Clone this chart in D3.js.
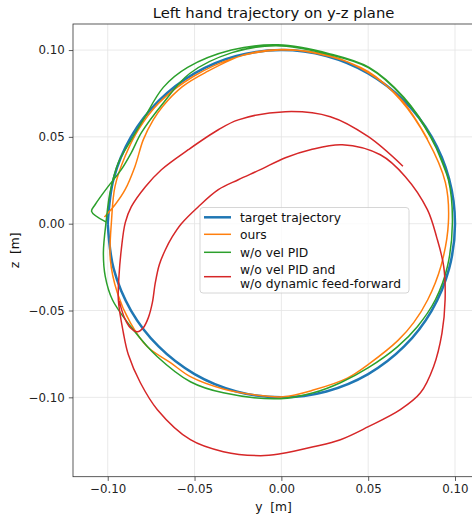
<!DOCTYPE html>
<html><head><meta charset="utf-8">
<script src="https://cdn.jsdelivr.net/npm/d3@7"></script>
<style>body{margin:0;background:#fff}svg{display:block;font-family:"DejaVu Sans",sans-serif}</style>
</head><body><svg id="c" width="472" height="516"></svg>
<script>
const title = "Left hand trajectory on y-z plane";
const xLabel = "y  [m]";
const zLabel = "z  [m]";
const xTicks = [-0.10, -0.05, 0.00, 0.05, 0.10];
const zTicks = [-0.10, -0.05, 0.00, 0.05, 0.10];
const seriesNames = ["target trajectory", "ours", "w/o vel PID", "w/o vel PID and\nw/o dynamic feed-forward"];
const seriesColors = ["#1f77b4", "#ff7f0e", "#2ca02c", "#d62728"];

// [y, z] points
const target = [
  [-0.1,0],[-0.0966,0.0259],[-0.0866,0.05],[-0.0707,0.0707],[-0.05,0.0866],[-0.0259,0.0966],[0,0.1],
  [0.0259,0.0966],[0.05,0.0866],[0.0707,0.0707],[0.0866,0.05],[0.0966,0.0259],[0.1,0],
  [0.0966,-0.0259],[0.0866,-0.05],[0.0707,-0.0707],[0.05,-0.0866],[0.0259,-0.0966],[0,-0.1],
  [-0.0259,-0.0966],[-0.05,-0.0866],[-0.0707,-0.0707],[-0.0866,-0.05],[-0.0966,-0.0259],[-0.1,0]
];
const ours = [
  [-0.1016,0.0042],[-0.0958,0.0109],[-0.09,0.0196],[-0.0843,0.033],[-0.0795,0.0484],[-0.0737,0.0599],
  [-0.0685,0.0674],[-0.057,0.0789],[-0.0438,0.087],[-0.0207,0.0975],[0.002,0.1003],
  [0.0282,0.0962],[0.0501,0.0876],[0.0685,0.0714],[0.0841,0.0484],[0.0945,0.0236],[0.0962,0.0006],
  [0.0918,-0.0248],[0.0843,-0.0438],[0.0762,-0.057],[0.0672,-0.0672],[0.0505,-0.0807],[0.038,-0.0889],
  [0.0184,-0.0958],[0.0012,-0.0997],[-0.0138,-0.0988],[-0.0334,-0.0952],[-0.0524,-0.0881],[-0.0639,-0.080],
  [-0.0772,-0.0709],[-0.087,-0.057],[-0.0945,-0.0397],[-0.0985,-0.0207],[-0.0978,0.002],[-0.0958,0.0215],
  [-0.09,0.0388],[-0.0824,0.0541],[-0.0708,0.0693],[-0.0505,0.0849],[-0.0269,0.0955],[-0.0015,0.1],
  [0.027,0.097],[0.05,0.087],[0.069,0.0715],[0.084,0.049]
];
const noVelPid = [
  [-0.1016,0.0013],[-0.1093,0.0071],[-0.1073,0.0109],[-0.0997,0.0215],[-0.0922,0.0311],[-0.0864,0.0409],
  [-0.0806,0.0524],[-0.068,0.0695],[-0.0528,0.0865],[-0.0284,0.0985],[-0.003,0.1025],
  [0.0282,0.0973],[0.0501,0.0899],[0.0703,0.0726],[0.0858,0.0501],[0.0962,0.0253],[0.0985,0.0006],
  [0.0956,-0.0248],[0.0887,-0.0438],[0.0783,-0.0593],[0.0668,-0.0709],[0.0501,-0.0829],[0.034,-0.0916],
  [0.0184,-0.0974],[-0.0006,-0.1008],[-0.0334,-0.0974],[-0.0524,-0.091],[-0.0714,-0.0766],[-0.0853,-0.0611],
  [-0.0973,-0.0438],[-0.1014,-0.0305],[-0.1025,-0.0167],[-0.1008,0.0023],[-0.0987,0.0179],[-0.0939,0.0351],
  [-0.0864,0.0484],[-0.0795,0.0599],[-0.068,0.0785],[-0.054,0.09],[-0.0288,0.1],[-0.002,0.103],
  [0.028,0.0978],[0.0505,0.09],[0.0705,0.0728],[0.086,0.0503],[0.0963,0.0255]
];
const noVelPidNoFF = [
  [-0.0933,-0.0449],[-0.0904,-0.0541],[-0.087,-0.0599],[-0.0829,-0.0622],[-0.0795,-0.0599],[-0.0766,-0.0541],
  [-0.0743,-0.0455],[-0.0726,-0.034],[-0.0703,-0.0236],[-0.0668,-0.015],[-0.0628,-0.0075],[-0.0576,0],
  [-0.0478,0.0098],[-0.0363,0.0196],[-0.0248,0.0253],[-0.0121,0.0311],[0.0023,0.038],[0.0167,0.0426],
  [0.0351,0.0455],[0.057,0.0397],[0.0714,0.0271],[0.0841,0.0081],[0.0895,-0.008],[0.0935,-0.0246],
  [0.0943,-0.0438],[0.0925,-0.063],[0.0877,-0.0822],[0.0801,-0.0974],[0.0685,-0.1071],[0.0501,-0.1169],
  [0.034,-0.1244],[0.0184,-0.1285],[-0.0006,-0.1325],[-0.0121,-0.1336],[-0.0334,-0.1313],[-0.0524,-0.1244],
  [-0.0714,-0.1071],[-0.0812,-0.0916],[-0.0881,-0.0755],[-0.091,-0.0628],[-0.0939,-0.0438],[-0.0935,-0.03],
  [-0.0922,-0.015],[-0.0899,0.0006],[-0.0864,0.0098],[-0.0783,0.0213],[-0.0691,0.0311],[-0.0536,0.0426],
  [-0.0363,0.0541],[-0.0248,0.0598],[0.0023,0.0645],[0.0282,0.0616],[0.0501,0.0501],[0.0697,0.0334]
];
const seriesData = [target, ours, noVelPid, noVelPidNoFF];
const seriesWidths = [2.5, 1.5, 1.5, 1.5];

const svg = d3.select("#c");
const L = 73, R = 474.1, T = 24, B = 476.7;
const x = d3.scaleLinear().domain([-0.12, 0.111]).range([L, R]);
const y = d3.scaleLinear().domain([-0.1457, 0.115]).range([B, T]);
const fmt = d => d3.format(".2f")(d).replace("-", "\u2212");

svg.append("defs").append("clipPath").attr("id","clip").append("rect")
  .attr("x", L).attr("y", T).attr("width", R - L).attr("height", B - T);

// grid
const g = svg.append("g");
g.selectAll(".gx").data(xTicks).enter().append("line")
  .attr("x1", d => x(d)).attr("x2", d => x(d)).attr("y1", T).attr("y2", B)
  .attr("stroke", "#e3e3e3").attr("stroke-width", 0.8);
g.selectAll(".gy").data(zTicks).enter().append("line")
  .attr("y1", d => y(d)).attr("y2", d => y(d)).attr("x1", L).attr("x2", R)
  .attr("stroke", "#e3e3e3").attr("stroke-width", 0.8);

// lines
const line = d3.line().x(d => x(d[0])).y(d => y(d[1])).curve(d3.curveCatmullRom.alpha(0.5));
const plot = svg.append("g").attr("clip-path", "url(#clip)");
seriesData.forEach((s, i) => {
  plot.append("path").attr("d", line(s)).attr("fill", "none")
    .attr("stroke", seriesColors[i]).attr("stroke-width", seriesWidths[i])
    .attr("stroke-linejoin", "round").attr("stroke-linecap", "square");
});

// axes
const xa = svg.append("g").attr("transform", `translate(0,${B})`)
  .call(d3.axisBottom(x).tickValues(xTicks).tickFormat(fmt).tickSize(4.2).tickPadding(4));
const ya = svg.append("g").attr("transform", `translate(${L},0)`)
  .call(d3.axisLeft(y).tickValues(zTicks).tickFormat(fmt).tickSize(4.2).tickPadding(4));
[xa, ya].forEach(a => {
  a.select(".domain").remove();
  a.selectAll("line").attr("stroke", "#333").attr("stroke-width", 0.8);
  a.selectAll("text").attr("font-size", 11.8).attr("fill", "#222").attr("font-family", "DejaVu Sans");
});
// frame
svg.append("rect").attr("x", L).attr("y", T).attr("width", R - L).attr("height", B - T)
  .attr("fill", "none").attr("stroke", "#333").attr("stroke-width", 0.8);

// labels
svg.append("text").attr("x", (L + R) / 2).attr("y", 17.5).attr("text-anchor", "middle")
  .attr("font-size", 14.8).attr("fill", "#111").text(title);
svg.append("text").attr("x", (L + R) / 2).attr("y", 511).attr("text-anchor", "middle")
  .attr("font-size", 12.3).attr("fill", "#111").style("white-space","pre").text(xLabel);
svg.append("text").attr("transform", `translate(19,${(T + B) / 2}) rotate(-90)`).attr("text-anchor", "middle")
  .attr("font-size", 12.3).attr("fill", "#111").style("white-space","pre").text(zLabel);

// legend
const lg = svg.append("g");
lg.append("rect").attr("x", 200).attr("y", 207.5).attr("width", 209).attr("height", 85.5)
  .attr("rx", 3).attr("fill", "white").attr("fill-opacity", 0.8).attr("stroke", "#cccccc").attr("stroke-width", 0.8);
const rowsY = [217.3, 234.3, 252.3, 276.7];
seriesNames.forEach((n, i) => {
  lg.append("line").attr("x1", 204).attr("x2", 231).attr("y1", rowsY[i]).attr("y2", rowsY[i])
    .attr("stroke", seriesColors[i]).attr("stroke-width", seriesWidths[i]);
  const parts = n.split("\n");
  const t = lg.append("text").attr("x", 240).attr("font-size", 12.3).attr("fill", "#111");
  if (parts.length === 1) {
    t.attr("y", rowsY[i] + 4.3).text(n);
  } else {
    t.attr("y", rowsY[i] - 2.3);
    parts.forEach((p, k) => t.append("tspan").attr("x", 240).attr("dy", k === 0 ? 0 : 13.5).text(p));
  }
});
</script></body></html>
